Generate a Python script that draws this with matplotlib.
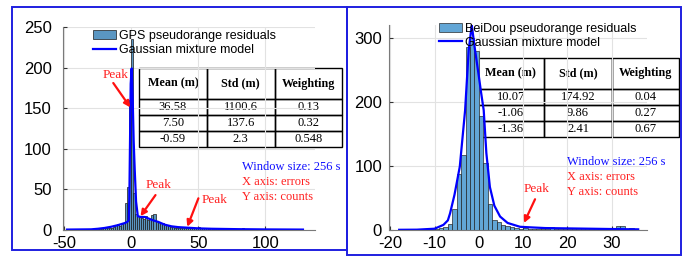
import matplotlib.pyplot as plt
import numpy as np
from matplotlib.patches import Rectangle

plt.rcParams['axes.unicode_minus'] = False

# --- GPS histogram (bin width 1.5 m) ---
gps_edges = np.arange(-48, 128.9, 1.5)
gps_counts = [0, 0, 0, 0, 0, 0, 0, 0, 0, 0, 0, 0, 0, 1, 0,
              1, 1, 1, 2, 2, 2, 3, 3, 4,
              6, 7, 5, 7, 8,
              33, 53, 160, 235, 45, 20,
              17, 16, 15, 13, 17, 12, 14, 18, 20, 11, 10,
              8, 9, 7, 6, 5, 4, 4, 3, 3, 3,
              3, 2, 3, 2, 3, 4, 3, 2, 3, 4, 3, 2, 2, 2, 1,
              2, 1, 1, 2, 1, 1, 1, 1, 0, 1, 1, 1, 1, 0, 1, 1, 2, 1, 1, 0,
              1, 1, 0, 0, 1, 0, 0, 0, 1, 0, 0, 0, 0, 1, 0, 0, 0, 0, 0, 0,
              0, 0, 1, 1, 0, 0]
gps_fit_x = [-48, -30, -25, -20, -15, -10, -5, -3, -2, -1.5, -1, -0.5, 0.2,
             1.0, 1.7, 2.5, 3.5, 4.8, 7, 10, 13, 16, 20, 25, 30, 35, 40, 50,
             60, 80, 100, 128]
gps_fit_y = [0.5, 0.8, 1.5, 2.5, 4, 6, 8.5, 10, 12, 40, 110, 180, 199,
             160, 110, 74, 35, 17, 16, 16, 14, 12, 10, 6.5, 4.5, 3.5, 3, 2,
             1.5, 1, 0.7, 0.5]

# --- BeiDou histogram (bin width 1 m) ---
bds_edges = np.arange(-18, 36.9, 1)
bds_counts = [1, 1, 0, 1, 1, 1, 1, 1,
              2, 3, 5,
              9, 33, 88, 117, 285, 300, 280, 178, 104, 40, 16, 12, 8, 6, 5, 3, 2,
              3, 2, 2, 2, 2, 2, 4, 1, 1, 2, 1, 1, 1, 1, 1, 1, 1, 1, 1, 1, 1,
              6, 6, 1, 3, 0]
bds_fit_x = [-18, -14, -10, -8, -7, -6.5, -5.5, -4.3, -3.1, -2.3, -1.6, -0.9,
             0, 0.5, 1.1, 1.7, 2.5, 3.5, 4.8, 6.5, 9.3, 12, 15, 20, 25, 30, 36]
bds_fit_y = [0.3, 0.5, 2, 8, 15, 26, 55, 99, 187, 280, 320, 283,
             240, 215, 187, 120, 67, 38, 21, 11, 5, 4, 3, 2.5, 2, 1.5, 1]

col_labels = ['Mean (m)', 'Std (m)', 'Weighting']
gps_table = [['36.58', '1100.6', '0.13'],
             ['7.50', '137.6', '0.32'],
             ['-0.59', '2.3', '0.548']]
bds_table = [['10.07', '174.92', '0.04'],
             ['-1.06', '9.86', '0.27'],
             ['-1.36', '2.41', '0.67']]

bar_face = '#62a6d6'
sans = 'Liberation Sans'
serif = 'Liberation Serif'

fig = plt.figure(figsize=(6.94, 2.59), dpi=100)
ax1 = fig.add_axes([0.0908, 0.112, 0.3631, 0.7838])
ax2 = fig.add_axes([0.5605, 0.112, 0.3718, 0.7915])


def style_axes(ax, xticks, yticks, ypad):
    ax.set_axisbelow(True)
    ax.grid(True, color='#e2e2e2', lw=0.8)
    for s in ['top', 'right']:
        ax.spines[s].set_visible(False)
    for s in ['left', 'bottom']:
        ax.spines[s].set_color('#7a7a7a')
        ax.spines[s].set_linewidth(0.8)
    ax.set_xticks(xticks)
    ax.set_yticks(yticks)
    ax.tick_params(direction='in', length=3, color='#333333', labelsize=12)
    ax.tick_params(axis='x', pad=4)
    ax.tick_params(axis='y', pad=ypad)
    for lab in ax.get_xticklabels() + ax.get_yticklabels():
        lab.set_fontfamily(sans)


def add_table(ax, rows, bbox):
    tb = ax.table(cellText=rows, colLabels=col_labels, cellLoc='center',
                  bbox=bbox)
    tb.auto_set_font_size(False)
    tb.set_fontsize(9)
    h = tb[1, 0].get_height()
    for (r, c), cell in tb.get_celld().items():
        cell.set_facecolor('none')
        cell.set_edgecolor('black')
        cell.set_linewidth(1.0)
        cell.get_text().set_fontfamily(serif)
        if r == 0:
            cell.set_height(h * 1.94)
            cell.get_text().set_fontweight('bold')
            cell.get_text().set_fontsize(8.7)
    tb.set_clip_on(False)
    return tb


def peak(ax, text_xy, start, tip):
    ax.text(text_xy[0], text_xy[1], 'Peak', color='#ff2020', fontsize=9.5,
            family=serif, ha='center', va='center')
    ax.annotate('', xy=tip, xytext=start,
                arrowprops=dict(arrowstyle='-|>', color='#ff1010', lw=1.6,
                                mutation_scale=9, shrinkA=0, shrinkB=0))


def notes(ax, x, ys):
    ax.text(x, ys[0], 'Window size: 256 s', color='#1010ff', fontsize=9,
            family=serif, va='center', clip_on=False)
    ax.text(x, ys[1], 'X axis: errors', color='#ff2020', fontsize=9,
            family=serif, va='center', clip_on=False)
    ax.text(x, ys[2], 'Y axis: counts', color='#ff2020', fontsize=9,
            family=serif, va='center', clip_on=False)


def add_legend(ax, bars, line, anchor):
    ax.legend([bars, line], [bars.get_label(), line.get_label()],
              loc='upper left', bbox_to_anchor=anchor, frameon=False,
              borderpad=0, borderaxespad=0, handlelength=1.8,
              handletextpad=0.25, labelspacing=0.15,
              prop={'family': sans, 'size': 9})


# --- left panel: GPS ---
b1 = ax1.bar(gps_edges[:-1], gps_counts, width=1.5, align='edge',
             color='#5a96c2', edgecolor='#1a1a1a', linewidth=0.5,
             label='GPS pseudorange residuals')
l1, = ax1.plot(gps_fit_x, gps_fit_y, color='#0000ff', lw=1.6,
               label='Gaussian mixture model')
ax1.set_xlim(-51, 137)
ax1.set_ylim(0, 250)
style_axes(ax1, [-50, 0, 50, 100], [0, 50, 100, 150, 200, 250], 8)
add_legend(ax1, b1, l1, (0.119, 0.985))
add_table(ax1, gps_table, [0.302, 0.409, 0.806, 0.389])
peak(ax1, (-12, 191), (-13.5, 181), (-0.8, 151))
peak(ax1, (20, 56), (18, 43), (6.8, 17))
peak(ax1, (62, 37), (50, 39), (41.7, 4))
notes(ax1, 82.5, [77.5, 59, 40.5])

# --- right panel: BeiDou ---
b2 = ax2.bar(bds_edges[:-1], bds_counts, width=1, align='edge',
             color=bar_face, edgecolor='#1a1a1a', linewidth=0.45,
             label='BeiDou pseudorange residuals')
l2, = ax2.plot(bds_fit_x, bds_fit_y, color='#0000ff', lw=1.6,
               label='Gaussian mixture model')
ax2.set_xlim(-20.3, 38)
ax2.set_ylim(0, 320)
style_axes(ax2, [-20, -10, 0, 10, 20, 30], [0, 100, 200, 300], 5)
add_legend(ax2, b2, l2, (0.194, 1.01))
add_table(ax2, bds_table, [0.341, 0.454, 0.783, 0.385])
peak(ax2, (13, 64), (12.7, 48), (10.2, 11))
notes(ax2, 19.9, [106, 83, 59])

# blue panel frames
fig.add_artist(Rectangle((12 / 694, 9 / 259), 334.5 / 694, 243 / 259,
                         transform=fig.transFigure, fill=False,
                         edgecolor='#1f1fe0', lw=1.4))
fig.add_artist(Rectangle((346.5 / 694, 4 / 259), 334.5 / 694, 248 / 259,
                         transform=fig.transFigure, fill=False,
                         edgecolor='#1f1fe0', lw=1.4))

fig.savefig('out.png', dpi=100)
